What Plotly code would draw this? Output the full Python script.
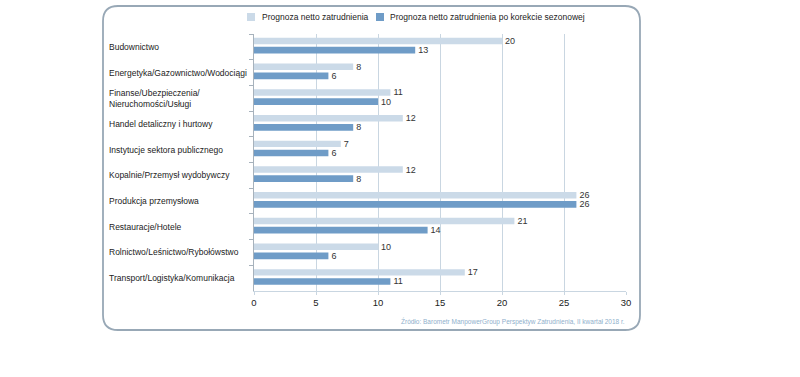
import plotly.graph_objects as go

categories = [
    "Budownictwo",
    "Energetyka/Gazownictwo/Wodociągi",
    "Finanse/Ubezpieczenia/<br>Nieruchomości/Usługi",
    "Handel detaliczny i hurtowy",
    "Instytucje sektora publicznego",
    "Kopalnie/Przemysł wydobywczy",
    "Produkcja przemysłowa",
    "Restauracje/Hotele",
    "Rolnictwo/Leśnictwo/Rybołówstwo",
    "Transport/Logistyka/Komunikacja",
]
netto = [20, 8, 11, 12, 7, 12, 26, 21, 10, 17]
korekta = [13, 6, 10, 8, 6, 8, 26, 14, 6, 11]
series_names = ["Prognoza netto zatrudnienia",
                "Prognoza netto zatrudnienia po korekcie sezonowej"]
x_ticks = [0, 5, 10, 15, 20, 25, 30]
source = "Źródło: Barometr ManpowerGroup Perspektyw Zatrudnienia, II kwartał 2018 r."

LIGHT = "#cbdae8"
DARK = "#6f9cc7"
FONT = "Liberation Sans"

# plot area in pixels
L, R, T, B = 254, 626, 34, 291
W, H = 800, 377
pw, ph = R - L, B - T

def px(x):
    return (x - L) / pw

def py(y):
    return (B - y) / ph

fig = go.Figure()
fig.add_trace(go.Bar(
    y=categories, x=netto, orientation="h", name=series_names[0],
    marker=dict(color=LIGHT, line=dict(width=0)),
    offset=-0.35, width=0.25,
    text=netto, textposition="outside", cliponaxis=False, constraintext="none",
    textfont=dict(family=FONT, size=9, color="#333333"),
    showlegend=False,
))
fig.add_trace(go.Bar(
    y=categories, x=korekta, orientation="h", name=series_names[1],
    marker=dict(color=DARK, line=dict(width=0)),
    offset=0.0, width=0.26,
    text=korekta, textposition="outside", cliponaxis=False, constraintext="none",
    textfont=dict(family=FONT, size=9, color="#333333"),
    showlegend=False,
))

annotations = []
for c in categories:
    annotations.append(dict(
        x=px(107), xref="paper", y=c, yref="y", text=c, showarrow=False,
        xanchor="left", yanchor="middle", align="left",
        font=dict(family=FONT, size=8.5, color="#222222"),
    ))

# legend (manual)
shapes = []
leg = [(247, 260, LIGHT, series_names[0]), (376, 388, DARK, series_names[1])]
for sx, tx, col, name in leg:
    shapes.append(dict(type="rect", xref="paper", yref="paper",
                       x0=px(sx), x1=px(sx + 8), y0=py(21), y1=py(13),
                       fillcolor=col, line=dict(width=0)))
    annotations.append(dict(
        x=px(tx), xref="paper", y=py(17), yref="paper", text=name,
        showarrow=False, xanchor="left", yanchor="middle",
        font=dict(family=FONT, size=8.5, color="#222222"),
    ))

annotations.append(dict(
    x=px(627), xref="paper", y=py(321), yref="paper", text=source,
    showarrow=False, xanchor="right", yanchor="middle",
    font=dict(family=FONT, size=6.5, color="#8fb0cc"),
))

# rounded border
bx0, bx1, by0, by1 = px(103), px(640), py(330), py(6)
rx, ry = 15 / pw, 15 / ph
path = (f"M {bx0+rx},{by1} L {bx1-rx},{by1} Q {bx1},{by1} {bx1},{by1-ry} "
        f"L {bx1},{by0+ry} Q {bx1},{by0} {bx1-rx},{by0} "
        f"L {bx0+rx},{by0} Q {bx0},{by0} {bx0},{by0+ry} "
        f"L {bx0},{by1-ry} Q {bx0},{by1} {bx0+rx},{by1} Z")
shapes.append(dict(type="path", xref="paper", yref="paper", path=path,
                   line=dict(color="#98a8b6", width=1.8), layer="below"))

fig.update_layout(
    width=W, height=H,
    margin=dict(l=L, r=W - R, t=T, b=H - B, autoexpand=False),
    paper_bgcolor="white", plot_bgcolor="white",
    barmode="group",
    showlegend=False,
    shapes=shapes, annotations=annotations,
    xaxis=dict(range=[0, 30], tickvals=x_ticks, ticktext=[str(v) for v in x_ticks],
               automargin=False,
               showgrid=True, gridcolor="#c9d6e1", gridwidth=1,
               showline=True, linecolor="#c9d6e1", linewidth=1,
               ticks="outside", ticklen=3, tickcolor="#c9d6e1",
               zeroline=False,
               tickfont=dict(family=FONT, size=9.5, color="#222222")),
    yaxis=dict(autorange="reversed", type="category", automargin=False,
               showticklabels=False, showgrid=False, zeroline=False,
               showline=True, linecolor="#a7b2bc", linewidth=1,
               ticks="outside", tickson="boundaries", ticklen=4,
               tickcolor="#a7b2bc"),
)

fig.write_html("out.html", config={"displayModeBar": False},
               post_script="document.body.style.margin='0';")
